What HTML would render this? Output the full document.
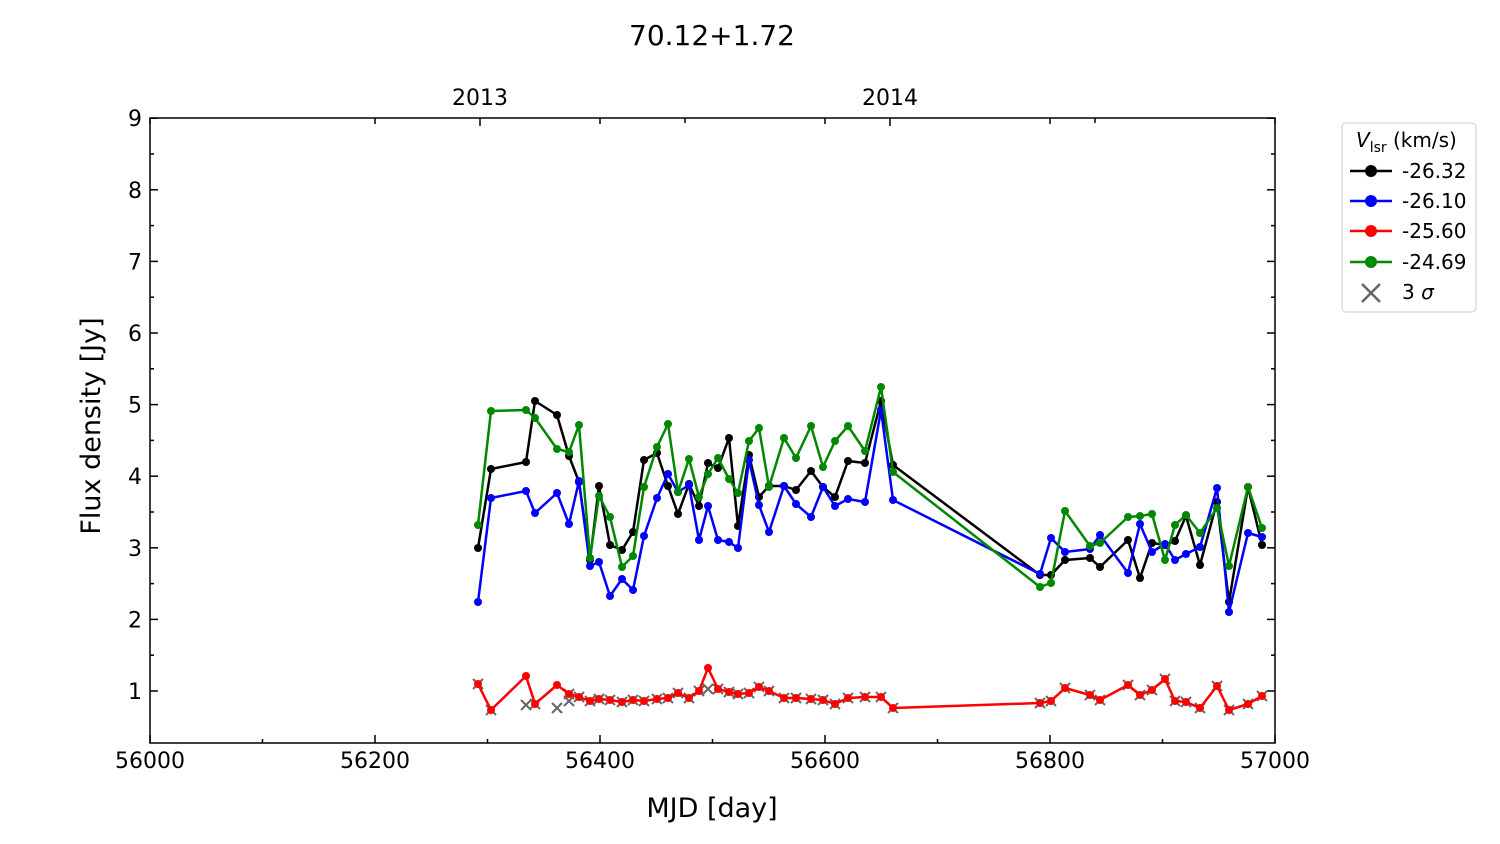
<!DOCTYPE html>
<html><head><meta charset="utf-8"><style>body{margin:0;background:#fff}svg{display:block}text{font-family:"DejaVu Sans","Liberation Sans",sans-serif;fill:#000}</style></head>
<body>
<svg id="s" width="1500" height="844" xmlns="http://www.w3.org/2000/svg">
<text x="712" y="45" font-size="28" text-anchor="middle">70.12+1.72</text>
<text x="712" y="817" font-size="27" text-anchor="middle">MJD [day]</text>
<text transform="translate(100,426) rotate(-90)" font-size="27" text-anchor="middle">Flux density [Jy]</text>
<g id="ax" stroke="#000" stroke-width="1.5" fill="none"><rect x="150" y="118" width="1125" height="625"/></g>
<g id="lbl" font-size="22"></g>
<g id="data"></g>
<g>
<rect x="1342" y="123" width="134" height="189" rx="4" fill="#fff" stroke="#ccc"/>
<text x="1356" y="147" font-size="20"><tspan font-style="italic">V</tspan><tspan font-size="14" dy="5">lsr</tspan><tspan dy="-5"> (km/s)</tspan></text>
<line x1="1350" y1="171" x2="1392" y2="171" stroke="#000" stroke-width="2.5"/><circle cx="1371" cy="171" r="6" fill="#000"/><text x="1402" y="178" font-size="20">-26.32</text>
<line x1="1350" y1="201" x2="1392" y2="201" stroke="#00f" stroke-width="2.5"/><circle cx="1371" cy="201" r="6" fill="#00f"/><text x="1402" y="208" font-size="20">-26.10</text>
<line x1="1350" y1="231" x2="1392" y2="231" stroke="#f00" stroke-width="2.5"/><circle cx="1371" cy="231" r="6" fill="#f00"/><text x="1402" y="238" font-size="20">-25.60</text>
<line x1="1350" y1="262" x2="1392" y2="262" stroke="#080" stroke-width="2.5"/><circle cx="1371" cy="262" r="6" fill="#080"/><text x="1402" y="269" font-size="20">-24.69</text>
<path d="M1362 284l18 18M1380 284l-18 18" stroke="#666" stroke-width="2.5"/><text x="1402" y="299" font-size="20">3 <tspan font-style="italic">σ</tspan></text>
</g>
</svg>
<script>
const NS="http://www.w3.org/2000/svg",ax=document.getElementById('ax'),lbl=document.getElementById('lbl'),dg=document.getElementById('data');
function el(p,t,a,txt){const e=document.createElementNS(NS,t);for(const k in a)e.setAttribute(k,a[k]);if(txt)e.textContent=txt;p.appendChild(e);return e;}
for(let i=0;i<=5;i++){const x=150+i*225;el(ax,'line',{x1:x,y1:743,x2:x,y2:735});el(ax,'line',{x1:x,y1:118,x2:x,y2:124});el(lbl,'text',{x:x,y:768,'text-anchor':'middle'},String(56000+i*200));
 if(i<5){el(ax,'line',{x1:x+112.5,y1:743,x2:x+112.5,y2:739});}}
[480,890].forEach((x,i)=>{el(ax,'line',{x1:x,y1:118,x2:x,y2:126});el(lbl,'text',{x:x,y:105,'text-anchor':'middle'},i?'2014':'2013');});
[685,1095].forEach(x=>el(ax,'line',{x1:x,y1:118,x2:x,y2:123}));
for(let v=1;v<=9;v++){const y=691-(v-1)*71.6;el(ax,'line',{x1:150,y1:y,x2:158,y2:y});el(ax,'line',{x1:1275,y1:y,x2:1267,y2:y});el(lbl,'text',{x:142,y:y+8,'text-anchor':'end'},String(v));
 if(v<9){el(ax,'line',{x1:150,y1:y-35.8,x2:154,y2:y-35.8});el(ax,'line',{x1:1275,y1:y-35.8,x2:1271,y2:y-35.8});}}
const X=[478,491,526,535,557,569,579,590,599,610,622,633,644,657,668,678,689,699,708,718,729,738,749,759,769,784,796,811,823,835,848,865,881,893,1040,1051,1065,1090,1100,1128,1140,1152,1165,1175,1186,1200,1217,1229,1248,1262];
const S={
'#000':[548,469,462,401,415,456,482,560,486,545,550,532,460,453,486,514,484,506,463,468,438,526,455,497,486,486,490,471,487,497,461,463,401,465,575,575,560,558,567,540,578,543,545,541,516,565,502,602,487,545],
'#00f':[602,498,491,513,493,524,481,566,562,596,579,590,536,498,474,492,485,540,506,540,542,548,460,505,532,486,504,517,487,506,499,502,410,500,574,538,552,549,535,573,524,552,544,560,554,547,488,612,533,537],
'#080':[525,411,410,418,449,452,425,558,496,517,567,556,487,447,424,492,459,497,474,458,479,493,441,428,487,438,458,426,467,441,426,451,387,472,587,583,511,546,543,517,516,514,560,525,515,533,508,566,487,528],
'#f00':[684,710,676,704,685,694,697,701,699,700,702,700,701,699,698,693,698,691,668,689,692,694,693,687,691,698,698,699,700,704,698,697,697,708,703,701,688,695,700,685,695,690,679,701,702,708,686,710,704,696]};
const order=['#000','#00f','#080'];
function series(c){const Y=S[c];el(dg,'polyline',{points:X.map((x,i)=>x+','+Y[i]).join(' '),fill:'none',stroke:c,'stroke-width':2.5,'stroke-linejoin':'round'});X.forEach((x,i)=>el(dg,'circle',{cx:x,cy:Y[i],r:4,fill:c}));}
order.forEach(series);
const xs=X.map((x,i)=>[x,S['#f00'][i]]).filter((p,i)=>![2,4,18].includes(i)).concat([[526,705],[557,708],[569,701],[708,689]]);
xs.forEach(([x,y])=>el(dg,'path',{d:`M${x-5} ${y-5}l10 10M${x+5} ${y-5}l-10 10`,stroke:'#666','stroke-width':2}));
series('#f00');
</script>
</body></html>
